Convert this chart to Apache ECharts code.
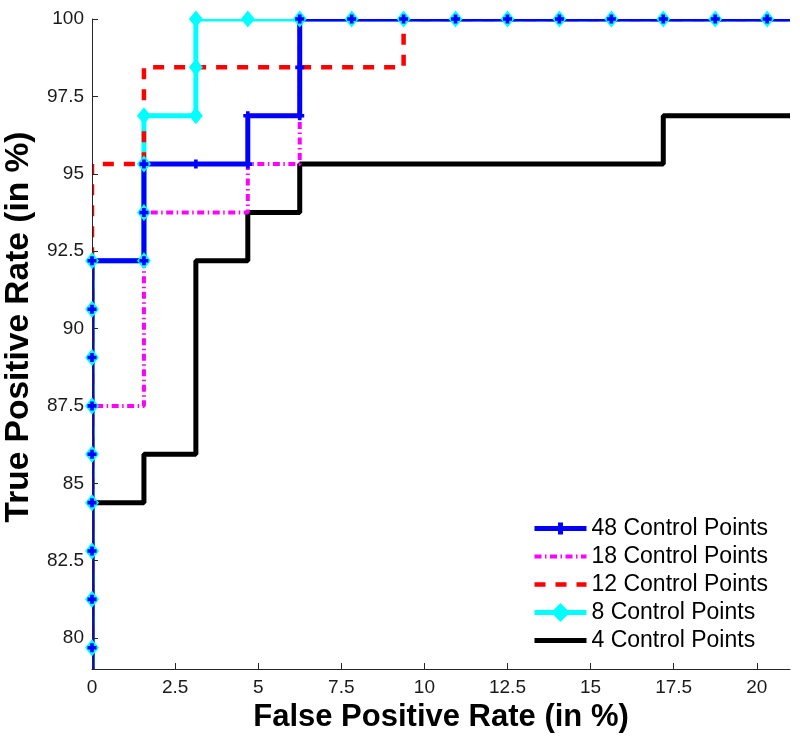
<!DOCTYPE html>
<html><head><meta charset="utf-8">
<script src="https://cdn.jsdelivr.net/npm/echarts@6/dist/echarts.min.js"></script>
<style>html,body{margin:0;padding:0;background:#fff}#c{width:800px;height:740px}</style>
</head><body><div id="c"></div>
<script>
const seriesNames = ['48 Control Points', '18 Control Points', '12 Control Points', '8 Control Points', '4 Control Points'];
const xTicks = [0, 2.5, 5, 7.5, 10, 12.5, 15, 17.5, 20];
const yTicks = [80, 82.5, 85, 87.5, 90, 92.5, 95, 97.5, 100];

const fpr48 = [0, 0, 0, 0, 0, 0, 0, 0, 0, 0, 1.5625, 1.5625, 1.5625, 3.125, 4.6875, 4.6875, 6.25, 6.25, 6.25, 7.8125, 9.375, 10.9375, 12.5, 14.0625, 15.625, 17.1875, 18.75, 20.3125, 100];
const tpr48 = [0, 79.6875, 81.25, 82.8125, 84.375, 85.9375, 87.5, 89.0625, 90.625, 92.1875, 92.1875, 93.75, 95.3125, 95.3125, 95.3125, 96.875, 96.875, 98.4375, 100, 100, 100, 100, 100, 100, 100, 100, 100, 100, 100];

const fpr18 = [0, 0, 1.5625, 1.5625, 4.6875, 4.6875, 6.25, 6.25, 100];
const tpr18 = [0, 87.5, 87.5, 93.75, 93.75, 95.3125, 95.3125, 100, 100];

const fpr12 = [0, 0, 1.5625, 1.5625, 9.375, 9.375, 100];
const tpr12 = [0, 95.3125, 95.3125, 98.4375, 98.4375, 100, 100];

const fpr8 = [0, 0, 0, 0, 0, 0, 0, 0, 0, 0, 1.5625, 1.5625, 1.5625, 1.5625, 3.125, 3.125, 3.125, 4.6875, 6.25, 7.8125, 9.375, 10.9375, 12.5, 14.0625, 15.625, 17.1875, 18.75, 20.3125, 100];
const tpr8 = [0, 79.6875, 81.25, 82.8125, 84.375, 85.9375, 87.5, 89.0625, 90.625, 92.1875, 92.1875, 93.75, 95.3125, 96.875, 96.875, 98.4375, 100, 100, 100, 100, 100, 100, 100, 100, 100, 100, 100, 100, 100];

const fpr4 = [0, 0, 1.5625, 1.5625, 3.125, 3.125, 4.6875, 4.6875, 6.25, 6.25, 17.1875, 17.1875, 100];
const tpr4 = [0, 84.375, 84.375, 85.9375, 85.9375, 92.1875, 92.1875, 93.75, 93.75, 95.3125, 95.3125, 96.875, 96.875];

const X_MIN = 0, X_MAX = 21, Y_MIN = 79, Y_MAX = 100;

function pairs(xs, ys) { return xs.map((x, i) => [x, ys[i]]); }
function visible(xs, ys) {
  return pairs(xs, ys).filter(p => p[0] >= X_MIN && p[0] <= X_MAX && p[1] >= Y_MIN && p[1] <= Y_MAX);
}

const FONT = "'Liberation Sans', Arial, Helvetica, sans-serif";
const PLUS = 'path://M3,0H7V3H10V7H7V10H3V7H0V3H3Z';
// legend version: plus occupies the middle of a larger box (tiny corner dots fix the box)
const PLUS_LEGEND = 'path://M0,0h0.01v0.01h-0.01ZM20,20h-0.01v-0.01h0.01Z' +
  'M7.4,3.75H12.6V7.4H16.25V12.6H12.6V16.25H7.4V12.6H3.75V7.4H7.4Z';

const GRID = {left: 92, right: 10, top: 19, bottom: 71};
const W = 800, H = 740;
const cover = [
  {x: 0, y: 0, width: GRID.left, height: H},
  {x: 0, y: 0, width: W, height: GRID.top},
  {x: W - GRID.right, y: 0, width: GRID.right, height: H},
  {x: 0, y: H - GRID.bottom, width: W, height: GRID.bottom}
].map(s => ({type: 'rect', shape: s, style: {fill: '#ffffff'}, z: 10, silent: true}));

const noMark = {itemStyle: {opacity: 0}};

const chart = echarts.init(document.getElementById('c'), null, {renderer: 'canvas'});
chart.setOption({
  animation: false,
  backgroundColor: '#ffffff',
  textStyle: {fontFamily: FONT},
  grid: Object.assign({containLabel: false, outerBoundsMode: 'none'}, GRID),
  graphic: {elements: cover},
  legend: {
    data: [
      {name: seriesNames[0]},
      Object.assign({name: seriesNames[1]}, noMark),
      Object.assign({name: seriesNames[2]}, noMark),
      {name: seriesNames[3]},
      Object.assign({name: seriesNames[4]}, noMark)
    ],
    orient: 'vertical',
    left: 527, top: 512, z: 40,
    itemWidth: 52, itemHeight: 24, itemGap: 5,
    selectedMode: false,
    lineStyle: {width: 'inherit'},
    textStyle: {fontSize: 23, color: '#000', fontFamily: FONT}
  },
  xAxis: {
    type: 'value', min: X_MIN, max: X_MAX, z: 20,
    name: 'False Positive Rate (in %)', nameLocation: 'middle', nameGap: 30,
    nameTextStyle: {fontSize: 31, fontWeight: 'bold', color: '#000', fontFamily: FONT},
    axisLine: {show: true, lineStyle: {color: '#262626', width: 1}},
    axisTick: {show: true, inside: true, length: 6, customValues: xTicks, lineStyle: {color: '#262626'}},
    axisLabel: {show: true, customValues: xTicks, margin: 9, fontSize: 19, color: '#1a1a1a', fontFamily: FONT,
      formatter: v => String(v)},
    splitLine: {show: false}
  },
  yAxis: {
    type: 'value', min: Y_MIN, max: Y_MAX, z: 20,
    name: 'True Positive Rate (in %)', nameLocation: 'middle', nameGap: 54,
    nameTextStyle: {fontSize: 33.5, fontWeight: 'bold', color: '#000', fontFamily: FONT, padding: [0, 0, 0, 34]},
    axisLine: {show: true, lineStyle: {color: '#262626', width: 1}},
    axisTick: {show: true, inside: true, length: 6, customValues: yTicks, lineStyle: {color: '#262626'}},
    axisLabel: {show: true, customValues: yTicks, margin: 8, fontSize: 19, color: '#1a1a1a', fontFamily: FONT,
      formatter: v => String(v)},
    splitLine: {show: false}
  },
  series: [
    {name: seriesNames[4], type: 'line', data: pairs(fpr4, tpr4), symbol: 'none', z: 2,
     lineStyle: {color: '#000000', width: 5}, itemStyle: {color: '#000000'}},
    {name: seriesNames[3], type: 'line', data: pairs(fpr8, tpr8), symbol: 'diamond', showSymbol: false, z: 3,
     lineStyle: {color: '#00ffff', width: 5}, itemStyle: {color: '#00ffff'}},
    {name: seriesNames[2], type: 'line', data: pairs(fpr12, tpr12), symbol: 'none', z: 4,
     lineStyle: {color: '#ff0000', width: 4.5, type: [11, 10], cap: 'butt'}, itemStyle: {color: '#ff0000'}},
    {name: seriesNames[1], type: 'line', data: pairs(fpr18, tpr18), symbol: 'none', z: 5,
     lineStyle: {color: '#ff00ff', width: 4, type: [7, 3.5, 1.5, 3.5], cap: 'butt'}, itemStyle: {color: '#ff00ff'}},
    {name: seriesNames[0], type: 'line', data: pairs(fpr48, tpr48), symbol: PLUS_LEGEND, showSymbol: false, z: 6,
     lineStyle: {color: '#0000ff', width: 5}, itemStyle: {color: '#0000ff'}},
    // markers (drawn unclipped, above the edge covers)
    {name: 'markers8', type: 'scatter', data: visible(fpr8, tpr8), clip: false, z: 30,
     symbol: 'diamond', symbolSize: [14, 17], itemStyle: {color: '#00ffff', opacity: 1}},
    {name: 'markers48', type: 'scatter', data: visible(fpr48, tpr48), clip: false, z: 31,
     symbol: PLUS, symbolSize: 9, itemStyle: {color: '#0000ff', opacity: 1}}
  ]
});
</script></body></html>
